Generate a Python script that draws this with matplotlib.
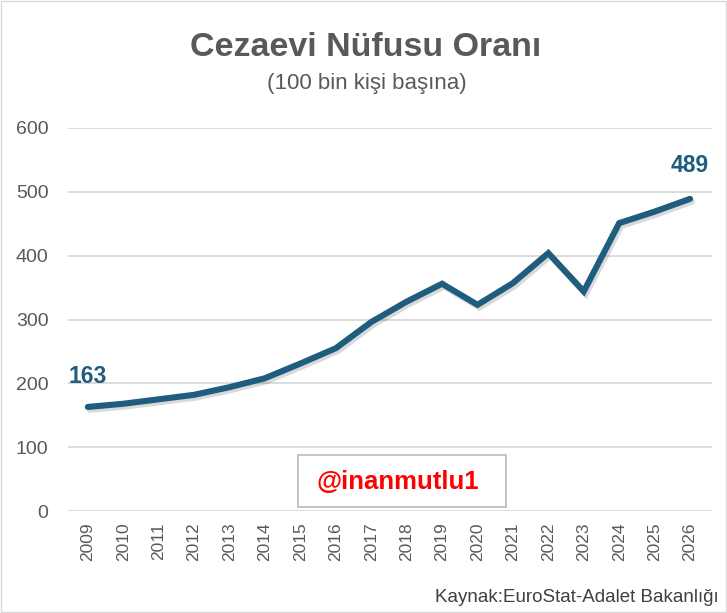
import matplotlib.pyplot as plt
import matplotlib.patheffects as pe
from matplotlib.patches import Rectangle

years = [str(y) for y in range(2009, 2027)]
rate = [163, 168, 175, 182, 194, 208, 231, 255, 296, 328, 356, 323, 357, 404, 344, 451, 469, 489]

line_color = '#1E5D7D'
text_gray = '#595959'

plt.rcParams['font.family'] = ['Liberation Sans', 'DejaVu Sans']

fig = plt.figure(figsize=(7.27, 6.13), dpi=100)
ax = fig.add_axes([68 / 727, 1 - 511 / 613, (712 - 68) / 727, (511 - 128) / 613])

x = list(range(len(years)))
ax.plot(x, rate, color=line_color, linewidth=4.4, solid_capstyle='round', solid_joinstyle='miter',
        path_effects=[pe.SimpleLineShadow(offset=(1.5, -2), alpha=0.15, shadow_color='black'), pe.Normal()],
        zorder=3)

ax.set_xlim(-0.56, len(years) - 1 + 0.62)
ax.set_ylim(0, 600)
ax.set_yticks(range(0, 601, 100))
ax.set_xticks(x)
ax.set_xticklabels(years, rotation=90)
ax.tick_params(axis='both', length=0, colors=text_gray)
ax.tick_params(axis='y', labelsize=14, pad=14)
ax.tick_params(axis='x', labelsize=12.5, pad=8)
ax.grid(axis='y', color='#D9D9D9', linewidth=1.3)
ax.set_axisbelow(True)
for s in ax.spines.values():
    s.set_visible(False)

# end labels
ax.annotate(str(rate[0]), (x[0], rate[0]), xytext=(0, 14), textcoords='offset points',
            ha='center', va='bottom', fontsize=16.5, fontweight='bold', color=line_color)
ax.annotate(str(rate[-1]), (x[-1], rate[-1]), xytext=(0, 16), textcoords='offset points',
            ha='center', va='bottom', fontsize=16.5, fontweight='bold', color=line_color)

fig.text(366 / 727, 1 - 47 / 613, 'Cezaevi Nüfusu Oranı', ha='center', va='center',
         fontsize=24.5, fontweight='bold', color=text_gray)
fig.text(367 / 727, 1 - 84 / 613, '(100 bin kişi başına)', ha='center', va='center',
         fontsize=16, color=text_gray)

# watermark box
fig.patches.append(Rectangle((298 / 727, 1 - 507 / 613), 208 / 727, 52 / 613,
                             transform=fig.transFigure, facecolor='white',
                             edgecolor='#BFBFBF', linewidth=1.3, zorder=5))
fig.text(398 / 727, 1 - 482 / 613, '@inanmutlu1', ha='center', va='center',
         fontsize=18.5, fontweight='bold', color='#FF0000', zorder=6)

fig.text(719 / 727, 1 - 598 / 613, 'Kaynak:EuroStat-Adalet Bakanlığı', ha='right', va='center',
         fontsize=13.5, color='#404040')

# outer frame
fig.patches.append(Rectangle((0.001, 0.001), 0.997, 0.997, transform=fig.transFigure,
                             fill=False, edgecolor='#D9D9D9', linewidth=1))

fig.savefig('out.png', dpi=100)
